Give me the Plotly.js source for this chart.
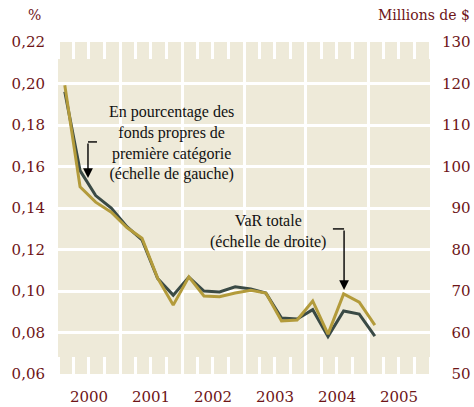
<!DOCTYPE html>
<html>
<head>
<meta charset="utf-8">
<script src="https://cdn.plot.ly/plotly-3.0.1.min.js"></script>
<style>html,body{margin:0;padding:0;background:#fff;}#chart{width:474px;height:407px;}</style>
</head>
<body>
<div id="chart"></div>
<script>
// Quarterly observations (mid-quarter dates)
const quarters = ['2000-02-10','2000-05-10','2000-08-10','2000-11-10',
  '2001-02-10','2001-05-10','2001-08-10','2001-11-10',
  '2002-02-10','2002-05-10','2002-08-10','2002-11-10',
  '2003-02-10','2003-05-10','2003-08-10','2003-11-10',
  '2004-02-10','2004-05-10','2004-08-10','2004-11-10',
  '2005-02-10'];
// % of tier 1 capital (left scale)
const pctTier1 = [0.196, 0.158, 0.146, 0.140, 0.131, 0.1246, 0.106, 0.098, 0.1067, 0.100,
  0.0995, 0.102, 0.101, 0.099, 0.087, 0.0865, 0.091, 0.078, 0.0904, 0.0889, 0.0783];
// Total VaR, millions $ (right scale)
const varTotal = [119.6, 95.1, 91.4, 89.0, 85.3, 82.7, 73.1, 66.6, 73.4, 68.8,
  68.6, 69.5, 70.2, 69.5, 62.8, 63.0, 67.6, 59.6, 69.3, 67.3, 61.8];
const leftTicks = [0.06, 0.08, 0.10, 0.12, 0.14, 0.16, 0.18, 0.20, 0.22];
const leftTickText = ['0,06','0,08','0,10','0,12','0,14','0,16','0,18','0,20','0,22'];
const rightTicks = [50, 60, 70, 80, 90, 100, 110, 120, 130];
const rightTickText = ['\u200750','\u200760','\u200770','\u200780','\u200790','100','110','120','130'];

const red = '#6e1517';
const tickFont = {family: 'DejaVu Serif', size: 15, color: red};
const noteFont = {family: 'Liberation Serif', size: 16, color: '#111'};

const traces = [
  {x: quarters, y: varTotal, yaxis: 'y2', type: 'scatter', mode: 'lines',
   line: {color: '#b39b3b', width: 3}, hoverinfo: 'skip'},
  {x: quarters, y: pctTier1, yaxis: 'y', type: 'scatter', mode: 'lines',
   line: {color: '#3a4a45', width: 3}, hoverinfo: 'skip'}
];

const layout = {
  width: 474, height: 407,
  margin: {l: 58, r: 44, t: 42, b: 33},
  paper_bgcolor: '#ffffff',
  plot_bgcolor: '#eeead9',
  showlegend: false,
  xaxis: {
    type: 'date', range: ['2000-01-01', '2006-01-01'],
    tick0: '2000-01-01', dtick: 'M12', tickformat: '%Y', ticklabelmode: 'period',
    showgrid: true, gridcolor: '#ffffff', gridwidth: 3,
    ticks: 'inside', ticklen: 17, tickwidth: 3, tickcolor: '#ffffff', mirror: 'ticks',
    minor: {dtick: 'M3', tick0: '2000-01-01', ticks: 'inside', ticklen: 17, tickwidth: 3, tickcolor: '#ffffff', showgrid: false},
    zeroline: false, showline: false,
    tickfont: tickFont, ticklabelstandoff: 12,
    fixedrange: true
  },
  yaxis: {
    range: [0.06, 0.22], tickvals: leftTicks, ticktext: leftTickText,
    showgrid: true, gridcolor: '#ffffff', gridwidth: 3,
    ticks: '', zeroline: false, showline: false,
    tickfont: tickFont, ticklabelstandoff: 12
  },
  yaxis2: {
    range: [50, 130], tickvals: rightTicks, ticktext: rightTickText,
    overlaying: 'y', side: 'right', showgrid: false,
    ticks: '', zeroline: false, showline: false,
    tickfont: tickFont, ticklabelstandoff: 11
  },
  shapes: [
    {type: 'line', xref: 'paper', yref: 'paper', x0: 0.0806, x1: 0.1048, y0: 0.699, y1: 0.699,
     line: {color: '#000', width: 1.4}},
    {type: 'line', xref: 'paper', yref: 'paper', x0: 0.739, x1: 0.769, y0: 0.437, y1: 0.437,
     line: {color: '#000', width: 1.4}}
  ],
  annotations: [
    {xref: 'paper', yref: 'paper', x: 0.304, y: 0.697, xanchor: 'center', yanchor: 'middle',
     text: 'En pourcentage des<br>fonds propres de<br>première catégorie<br>(échelle de gauche)',
     showarrow: false, font: noteFont, align: 'center'},
    {xref: 'paper', yref: 'paper', x: 0.565, y: 0.429, xanchor: 'center', yanchor: 'middle',
     text: 'VaR totale<br>(échelle de droite)',
     showarrow: false, font: noteFont, align: 'center'},
    {xref: 'paper', yref: 'paper', x: 0.0806, y: 0.590, text: '', showarrow: true,
     ax: 0, ay: -36, arrowhead: 2, arrowsize: 1.4, arrowwidth: 1.4, arrowcolor: '#000', standoff: 0},
    {xref: 'paper', yref: 'paper', x: 0.769, y: 0.253, text: '', showarrow: true,
     ax: 0, ay: -61, arrowhead: 2, arrowsize: 1.4, arrowwidth: 1.4, arrowcolor: '#000', standoff: 0},
    {xref: 'paper', yref: 'paper', x: -0.0403, y: 1.081, xanchor: 'right', yanchor: 'middle',
     text: '%', showarrow: false, font: {family: 'DejaVu Serif', size: 14, color: red}},
    {xref: 'paper', yref: 'paper', x: 1.113, y: 1.081, xanchor: 'right', yanchor: 'middle',
     text: 'Millions de $', showarrow: false, font: {family: 'DejaVu Serif', size: 14, color: red}}
  ]
};

Plotly.newPlot('chart', traces, layout, {staticPlot: true, displayModeBar: false});
</script>
</body>
</html>
